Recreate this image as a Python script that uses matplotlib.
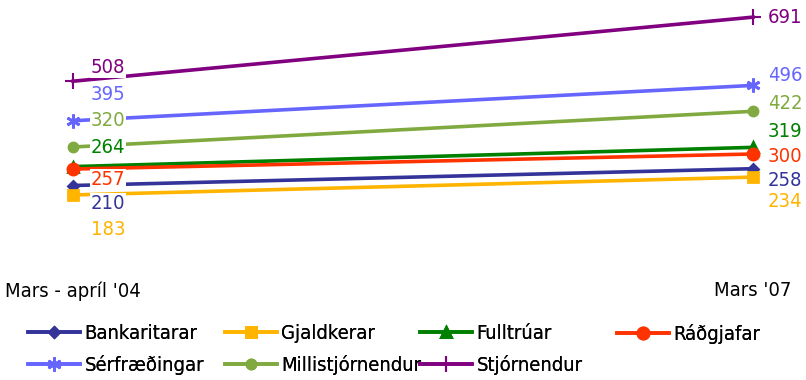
import matplotlib
matplotlib.use("Agg")
import matplotlib.pyplot as plt
from matplotlib import font_manager

# ---- data ----
periods = ["Mars - apríl '04", "Mars '07"]
series_names = ["Bankaritarar", "Gjaldkerar", "Fulltrúar", "Ráðgjafar",
                "Sérfræðingar", "Millistjórnendur", "Stjórnendur"]
bankaritarar = [210, 258]
gjaldkerar = [183, 234]
fulltruar = [264, 319]
radgjafar = [257, 300]
serfraedingar = [395, 496]
millistjornendur = [320, 422]
stjornendur = [508, 691]

# ---- font: prefer a narrow sans ----
ttf = font_manager.fontManager.ttflist
names = {f.name for f in ttf}
stretch = 'normal'
if "Liberation Sans Narrow" in names:
    fam = ["Liberation Sans Narrow", "DejaVu Sans"]
elif any(f.name == "DejaVu Sans" and str(f.stretch) in ("condensed", "semi-condensed") for f in ttf):
    fam = ["DejaVu Sans"]
    stretch = 'condensed'
elif "Roboto Condensed" in names:
    fam = ["Roboto Condensed", "DejaVu Sans"]
else:
    fam = ["Liberation Sans", "DejaVu Sans"]
plt.rcParams['font.family'] = fam
plt.rcParams['font.stretch'] = stretch
narrow = fam[0] != "Liberation Sans"
fs = 14.5 if narrow else 13.5

colors = ["#333399", "#FFB400", "#008000", "#FF3300", "#6666FF", "#80AA40", "#800080"]
markers = ["D", "s", "^", "o", (6, 2, 0), "o", "+"]
msizes = [5, 7, 7, 8, 10, 7, 12]
mews = [2, 2, 2, 2, 2, 1.5, 1.5]
# label offsets in pixels (left point, right point), positive = down
left_off = [18, 35, -19, 10, -26, -26, -14]
right_off = [12, 24, -16, 2, -10, -8, 0]

values = [bankaritarar, gjaldkerar, fulltruar, radgjafar,
          serfraedingar, millistjornendur, stjornendur]

W, H = 806, 380
fig = plt.figure(figsize=(W / 100, H / 100), dpi=100)
ax = fig.add_axes([73 / W, (H - 259) / H, 680 / W, 245 / H])
ax.set_xlim(0, 1)
ax.set_ylim(0, 700)
for s in ax.spines.values():
    s.set_visible(False)
ax.set_yticks([])
xs = [0, 1]
ax.set_xticks(xs)
ax.set_xticklabels(periods, fontsize=fs)
ax.tick_params(axis='x', length=0, pad=16)

handles = []
for name, vals, c, m, ms, mw in zip(series_names, values, colors, markers, msizes, mews):
    h, = ax.plot(xs, vals, color=c, lw=2.6, marker=m, ms=ms, mew=mw,
                 mec=c, mfc=c, clip_on=False, label=name)
    handles.append(h)

# labels drawn after lines so white boxes overlay lines
for vals, c, lo, ro in zip(values, colors, left_off, right_off):
    ax.annotate(str(vals[0]), (xs[0], vals[0]), xytext=(35, -lo),
                textcoords='offset pixels', ha='center', va='center',
                fontsize=fs, color=c, annotation_clip=False,
                bbox=dict(boxstyle='square,pad=0.05', fc='white', ec='none'))
    ax.annotate(str(vals[1]), (xs[1], vals[1]), xytext=(32, -ro),
                textcoords='offset pixels', ha='center', va='center',
                fontsize=fs, color=c, annotation_clip=False,
                bbox=dict(boxstyle='square,pad=0.05', fc='white', ec='none'))

# legend: 4 columns, equal spacing
cols = [[0, 4], [1, 5], [2, 6], [3]]
col_x = [28, 225, 420, 617]
for cx, idx in zip(col_x, cols):
    leg = fig.legend([handles[i] for i in idx], [series_names[i] for i in idx],
                     loc='upper left', bbox_to_anchor=(cx / W, 1 - 324 / H),
                     frameon=False, fontsize=fs, handlelength=2.6,
                     handletextpad=0.2, labelspacing=0.62, borderpad=0,
                     borderaxespad=0)
    fig.add_artist(leg)

fig.savefig("out.png", dpi=100)
